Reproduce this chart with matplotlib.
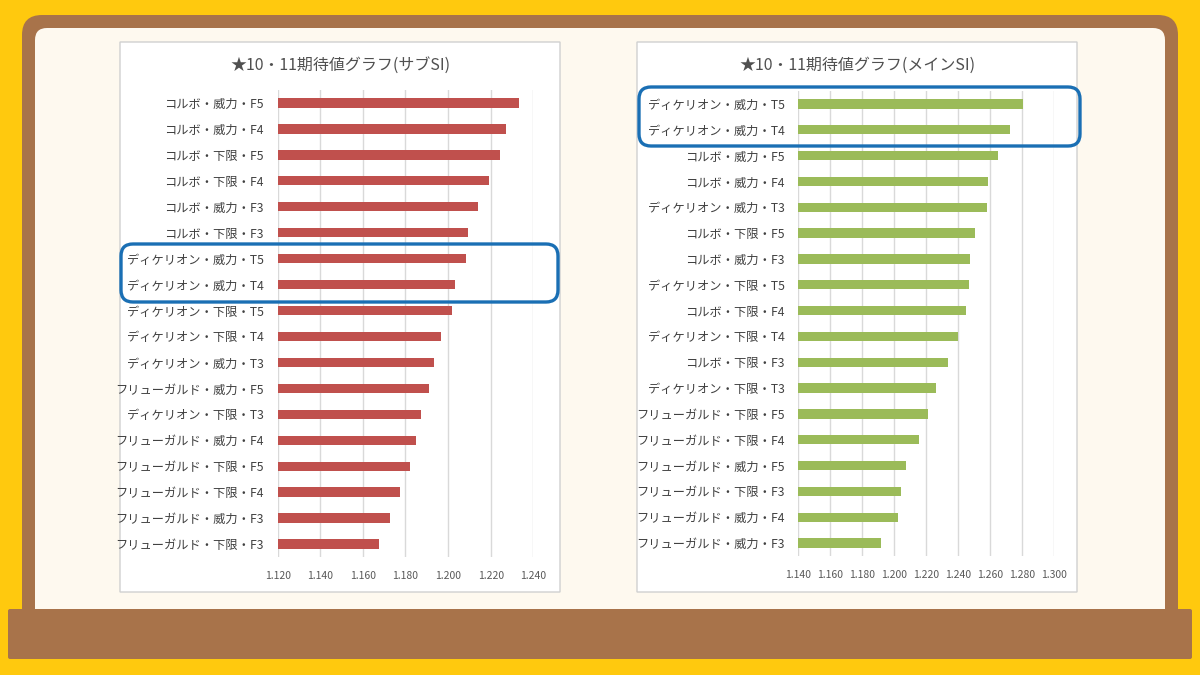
import matplotlib
matplotlib.use("Agg")
import matplotlib.pyplot as plt
from matplotlib.patches import FancyBboxPatch

plt.rcParams['font.family'] = ['Noto Sans CJK JP', 'DejaVu Sans']

# ---- data ----
sub_title = "★10・11期待値グラフ(サブSI)"
sub_labels = ["コルボ・威力・F5", "コルボ・威力・F4", "コルボ・下限・F5", "コルボ・下限・F4",
              "コルボ・威力・F3", "コルボ・下限・F3", "ディケリオン・威力・T5", "ディケリオン・威力・T4",
              "ディケリオン・下限・T5", "ディケリオン・下限・T4", "ディケリオン・威力・T3",
              "フリューガルド・威力・F5", "ディケリオン・下限・T3", "フリューガルド・威力・F4",
              "フリューガルド・下限・F5", "フリューガルド・下限・F4", "フリューガルド・威力・F3",
              "フリューガルド・下限・F3"]
sub_values = [1.2333, 1.2270, 1.2242, 1.2192, 1.2140, 1.2093, 1.2084, 1.2032, 1.2017,
              1.1968, 1.1932, 1.1912, 1.1873, 1.1849, 1.1823, 1.1774, 1.1726, 1.1677]
sub_ticks = [1.120, 1.140, 1.160, 1.180, 1.200, 1.220, 1.240]

main_title = "★10・11期待値グラフ(メインSI)"
main_labels = ["ディケリオン・威力・T5", "ディケリオン・威力・T4", "コルボ・威力・F5", "コルボ・威力・F4",
               "ディケリオン・威力・T3", "コルボ・下限・F5", "コルボ・威力・F3", "ディケリオン・下限・T5",
               "コルボ・下限・F4", "ディケリオン・下限・T4", "コルボ・下限・F3", "ディケリオン・下限・T3",
               "フリューガルド・下限・F5", "フリューガルド・下限・F4", "フリューガルド・威力・F5",
               "フリューガルド・下限・F3", "フリューガルド・威力・F4", "フリューガルド・威力・F3"]
main_values = [1.2806, 1.2728, 1.2649, 1.2589, 1.2580, 1.2507, 1.2474, 1.2470, 1.2453,
               1.2401, 1.2340, 1.2261, 1.2215, 1.2158, 1.2077, 1.2043, 1.2025, 1.1920]
main_ticks = [1.140, 1.160, 1.180, 1.200, 1.220, 1.240, 1.260, 1.280, 1.300]

W, H = 1200, 675
fig = plt.figure(figsize=(W / 100, H / 100), dpi=100)
fig.patch.set_facecolor('#FFC90E')

def px_box(x0, y0, x1, y1, **kw):
    rs = kw.pop('rs', 0.0)
    p = FancyBboxPatch((x0 / 100, (H - y1) / 100), (x1 - x0) / 100, (y1 - y0) / 100,
                       boxstyle=f"round,pad=0,rounding_size={rs}",
                       transform=fig.dpi_scale_trans, **kw)
    fig.patches.append(p)
    return p

BROWN = '#A8734A'
px_box(22, 15, 1178, 640, rs=0.2, facecolor=BROWN, edgecolor='none', zorder=0)
px_box(35, 28, 1165, 640, rs=0.12, facecolor='#FEF9EF', edgecolor='none', zorder=0.1)
px_box(8, 609, 1192, 659, rs=0.02, facecolor=BROWN, edgecolor='none', zorder=0.2)

# white chart panels
px_box(120, 42, 560, 592, facecolor='white', edgecolor='#D0D0D0', linewidth=1, zorder=0.3)
px_box(637, 42, 1077, 592, facecolor='white', edgecolor='#D0D0D0', linewidth=1, zorder=0.3)

def make_axes(x0, x1, y0, y1):
    ax = fig.add_axes([x0 / W, (H - y1) / H, (x1 - x0) / W, (y1 - y0) / H])
    ax.set_zorder(1)
    return ax

def draw(ax, labels, values, ticks, color, title, title_x):
    n = len(labels)
    ys = list(range(n))
    ax.barh(ys, [v - ticks[0] for v in values], left=ticks[0], height=0.36,
            color=color, zorder=3)
    ax.set_xlim(ticks[0], ticks[-1])
    ax.set_ylim(n - 0.5, -0.5)
    ax.set_xticks(ticks)
    ax.set_xticklabels([f"{t:.3f}" for t in ticks], fontsize=7.5, color='#595959')
    ax.set_yticks(ys)
    ax.set_yticklabels(labels, fontsize=8.8, color='#404040')
    ax.tick_params(axis='x', length=0, pad=10)
    ax.tick_params(axis='y', length=0, pad=10)
    ax.grid(axis='x', color='#D9D9D9', linewidth=1, zorder=0)
    ax.set_axisbelow(True)
    for s in ax.spines.values():
        s.set_visible(False)
    ax.patch.set_alpha(0)
    fig.text(title_x / W, 1 - 65 / H, title, ha='center', va='center',
             fontsize=11.5, color='#505050', zorder=2)

ax1 = make_axes(277.7, 533.3, 90, 557)
draw(ax1, sub_labels, sub_values, sub_ticks, '#C0504D', sub_title, 340)

ax2 = make_axes(798.3, 1053.7, 91, 556)
draw(ax2, main_labels, main_values, main_ticks, '#9BBB59', main_title, 857)

# blue highlight boxes
BLUE = '#1A6FB4'
px_box(121, 244, 558, 302, rs=0.12, facecolor='none', edgecolor=BLUE, linewidth=2.4, zorder=5)
px_box(639, 87, 1080, 146, rs=0.12, facecolor='none', edgecolor=BLUE, linewidth=2.4, zorder=5)

fig.savefig('out.png', dpi=100, facecolor=fig.get_facecolor())
